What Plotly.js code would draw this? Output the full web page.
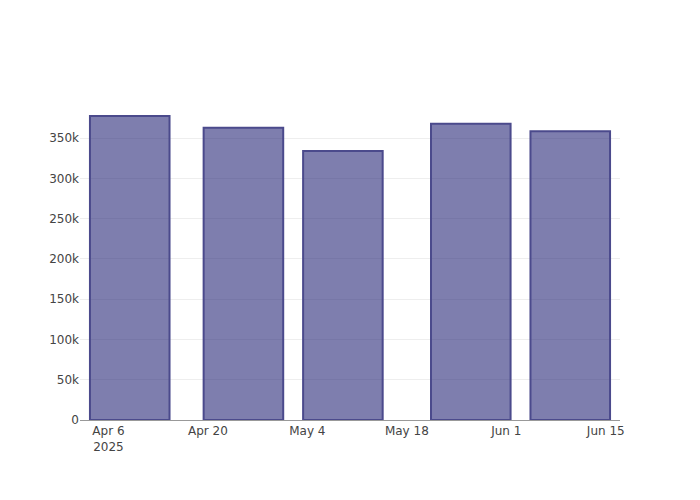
<!DOCTYPE html>
<html>
<head>
<meta charset="utf-8">
<script src="https://cdn.plot.ly/plotly-3.0.1.min.js"></script>
<style>html,body{margin:0;padding:0;}#chart{width:700px;height:500px;}</style>
</head>
<body>
<div id="chart"></div>
<script>
const dates = ["2025-04-09", "2025-04-25", "2025-05-09", "2025-05-27", "2025-06-10"];
const values = [377500, 363000, 334000, 368000, 358500];

const trace = {
  type: "bar",
  x: dates,
  y: values,
  marker: {
    color: "rgba(40,40,120,0.6)",
    line: { color: "rgb(75,74,140)", width: 2 }
  }
};

const layout = {
  width: 700,
  height: 500,
  font: { family: "DejaVu Sans, sans-serif", size: 12, color: "#444" },
  paper_bgcolor: "white",
  plot_bgcolor: "white",
  xaxis: { type: "date", showgrid: false, showline: true, linecolor: "#999", ticks: "" },
  yaxis: { ticks: "", gridcolor: "#eee", zeroline: false, showline: false },
  showlegend: false
};

Plotly.newPlot("chart", [trace], layout, { displayModeBar: false });
</script>
</body>
</html>
